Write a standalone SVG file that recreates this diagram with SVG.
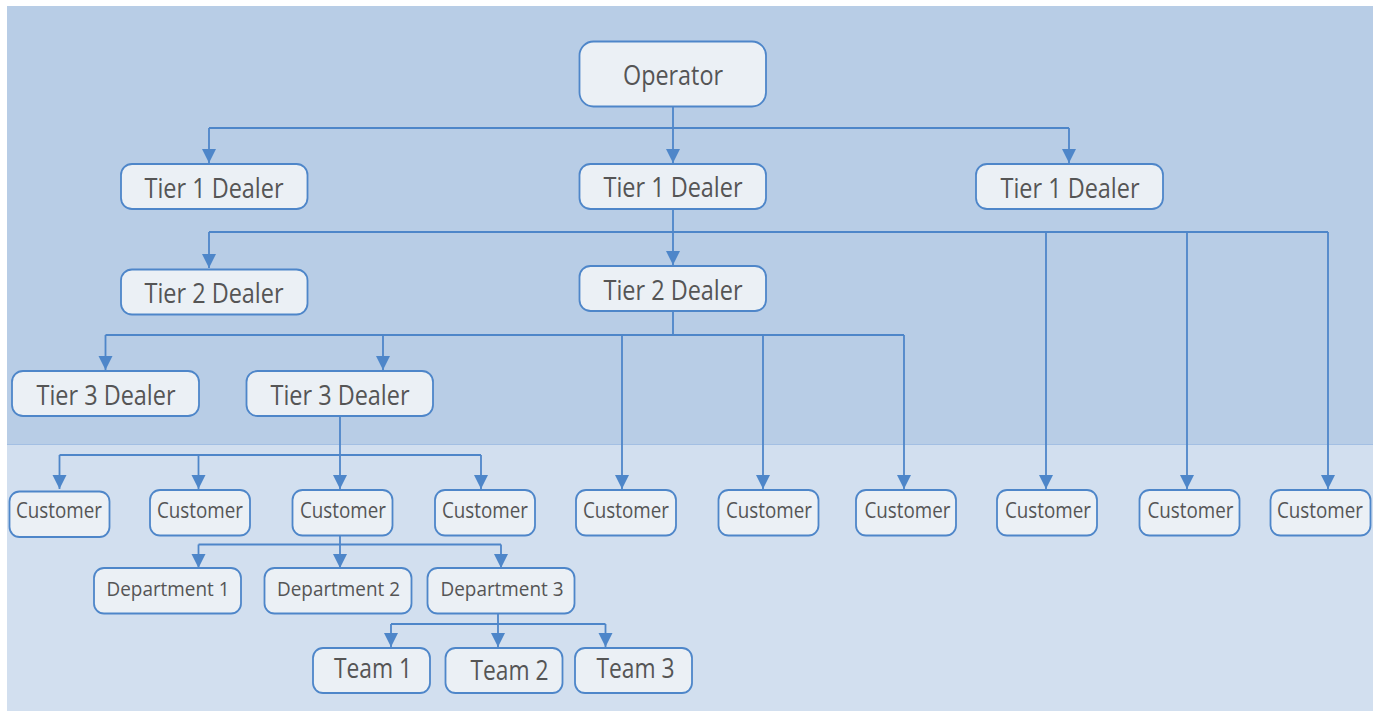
<svg xmlns="http://www.w3.org/2000/svg" width="1378" height="711" viewBox="0 0 1378 711">
<style>
.n{fill:#ebf0f5;stroke:#4e86c9;stroke-width:1.8}
.t{font-family:"Open Sans","Noto Sans",sans-serif;fill:#555555;text-anchor:middle}
.a{font-size:26.500px}.b{font-size:21px}.c{font-size:20.500px}
.l{fill:none;stroke:#4e86c9;stroke-width:1.8}
</style>
<defs><marker id="ah" markerUnits="userSpaceOnUse" markerWidth="15" markerHeight="16" refX="14" refY="7.500" orient="auto"><path d="M0 0.500L14 7.500L0 14.500Z" fill="#4e86c9"/></marker></defs>
<rect x="7" y="6" width="1366" height="438.500" fill="#b8cde6"/>
<rect x="7" y="444.500" width="1366" height="266.500" fill="#d2dfef"/>
<path d="M7 444.500H1373" stroke="#a3bfe3" stroke-width="1"/>
<g id="connectors" class="l">
<path d="M673 106.500V128M209 128H1069"/>
<path marker-end="url(#ah)" d="M209 128V163"/><path marker-end="url(#ah)" d="M673 128V163"/><path marker-end="url(#ah)" d="M1069 128V163"/>
<path d="M673 209V232M209 232H1328"/>
<path marker-end="url(#ah)" d="M209 232V268"/><path marker-end="url(#ah)" d="M673 232V265"/><path marker-end="url(#ah)" d="M1046 232V489"/><path marker-end="url(#ah)" d="M1187 232V489"/><path marker-end="url(#ah)" d="M1328 232V489"/>
<path d="M673 311V335M105.500 335H904"/>
<path marker-end="url(#ah)" d="M105.500 335V370"/><path marker-end="url(#ah)" d="M383 335V370"/><path marker-end="url(#ah)" d="M622 335V489"/><path marker-end="url(#ah)" d="M763 335V489"/><path marker-end="url(#ah)" d="M904 335V489"/>
<path d="M59.500 455H481"/>
<path marker-end="url(#ah)" d="M340 416V489"/><path marker-end="url(#ah)" d="M59.500 455V489"/><path marker-end="url(#ah)" d="M198.500 455V489"/><path marker-end="url(#ah)" d="M481 455V489"/>
<path d="M198.500 544.500H501"/>
<path d="M340 535.500V544.500"/>
<path marker-end="url(#ah)" d="M198.500 544.500V568"/><path marker-end="url(#ah)" d="M340 544.500V568"/><path marker-end="url(#ah)" d="M501 544.500V568"/>
<path d="M391 624H605.500"/><path d="M498 613.500V624"/>
<path marker-end="url(#ah)" d="M391 624V647"/><path marker-end="url(#ah)" d="M498 624V647"/><path marker-end="url(#ah)" d="M605.500 624V647"/>
</g>
<g id="operator"><rect class="n" x="579.500" y="41.500" width="186.500" height="65" rx="14"/><text class="t a" x="673" y="84.500" textLength="100" lengthAdjust="spacingAndGlyphs">Operator</text></g>
<g id="tier1-a"><rect class="n" x="121" y="164" width="186.500" height="45" rx="11"/><text class="t a" x="214" y="197.500" textLength="139" lengthAdjust="spacingAndGlyphs">Tier 1 Dealer</text></g>
<g id="tier1-b"><rect class="n" x="579.500" y="164" width="186.500" height="45" rx="11"/><text class="t a" x="673" y="196.500" textLength="139" lengthAdjust="spacingAndGlyphs">Tier 1 Dealer</text></g>
<g id="tier1-c"><rect class="n" x="976" y="164" width="187" height="45" rx="11"/><text class="t a" x="1070" y="197.500" textLength="139" lengthAdjust="spacingAndGlyphs">Tier 1 Dealer</text></g>
<g id="tier2-a"><rect class="n" x="121" y="269.500" width="186.500" height="45" rx="11"/><text class="t a" x="214" y="302.500" textLength="139" lengthAdjust="spacingAndGlyphs">Tier 2 Dealer</text></g>
<g id="tier2-b"><rect class="n" x="579.500" y="266" width="186.500" height="45" rx="11"/><text class="t a" x="673" y="299.500" textLength="139" lengthAdjust="spacingAndGlyphs">Tier 2 Dealer</text></g>
<g id="tier3-a"><rect class="n" x="12" y="371" width="187" height="45" rx="11"/><text class="t a" x="106" y="404.500" textLength="139" lengthAdjust="spacingAndGlyphs">Tier 3 Dealer</text></g>
<g id="tier3-b"><rect class="n" x="246.500" y="371" width="186.500" height="45" rx="11"/><text class="t a" x="340" y="404.500" textLength="139" lengthAdjust="spacingAndGlyphs">Tier 3 Dealer</text></g>
<g id="customer-1"><rect class="n" x="9.500" y="491.500" width="100" height="45.500" rx="10"/><text class="t b" x="59" y="517.500" textLength="86" lengthAdjust="spacingAndGlyphs">Customer</text></g>
<g id="customer-2"><rect class="n" x="150" y="490" width="100" height="45.500" rx="10"/><text class="t b" x="200" y="517.500" textLength="86" lengthAdjust="spacingAndGlyphs">Customer</text></g>
<g id="customer-3"><rect class="n" x="292.500" y="490" width="100" height="45.500" rx="10"/><text class="t b" x="343" y="517.500" textLength="86" lengthAdjust="spacingAndGlyphs">Customer</text></g>
<g id="customer-4"><rect class="n" x="435" y="490" width="100" height="45.500" rx="10"/><text class="t b" x="485" y="517.500" textLength="86" lengthAdjust="spacingAndGlyphs">Customer</text></g>
<g id="customer-5"><rect class="n" x="576" y="490" width="100" height="45.500" rx="10"/><text class="t b" x="626" y="517.500" textLength="86" lengthAdjust="spacingAndGlyphs">Customer</text></g>
<g id="customer-6"><rect class="n" x="718.500" y="490" width="100" height="45.500" rx="10"/><text class="t b" x="769" y="517.500" textLength="86" lengthAdjust="spacingAndGlyphs">Customer</text></g>
<g id="customer-7"><rect class="n" x="856" y="490" width="100" height="45.500" rx="10"/><text class="t b" x="907.500" y="517.500" textLength="86" lengthAdjust="spacingAndGlyphs">Customer</text></g>
<g id="customer-8"><rect class="n" x="997" y="490" width="100" height="45.500" rx="10"/><text class="t b" x="1048" y="517.500" textLength="86" lengthAdjust="spacingAndGlyphs">Customer</text></g>
<g id="customer-9"><rect class="n" x="1139.500" y="490" width="100" height="45.500" rx="10"/><text class="t b" x="1190.500" y="517.500" textLength="86" lengthAdjust="spacingAndGlyphs">Customer</text></g>
<g id="customer-10"><rect class="n" x="1270.500" y="490" width="100" height="45.500" rx="10"/><text class="t b" x="1320" y="517.500" textLength="86" lengthAdjust="spacingAndGlyphs">Customer</text></g>
<g id="department-1"><rect class="n" x="94" y="568" width="147" height="45.500" rx="10"/><text class="t c" x="168" y="596" textLength="123" lengthAdjust="spacingAndGlyphs">Department 1</text></g>
<g id="department-2"><rect class="n" x="264.500" y="568" width="147" height="45.500" rx="10"/><text class="t c" x="338.500" y="596" textLength="123" lengthAdjust="spacingAndGlyphs">Department 2</text></g>
<g id="department-3"><rect class="n" x="427.500" y="568" width="147" height="45.500" rx="10"/><text class="t c" x="502" y="596" textLength="123" lengthAdjust="spacingAndGlyphs">Department 3</text></g>
<g id="team-1"><rect class="n" x="313" y="648" width="117" height="45" rx="10"/><text class="t a" x="373" y="677.500" textLength="78" lengthAdjust="spacingAndGlyphs">Team 1</text></g>
<g id="team-2"><rect class="n" x="445.500" y="648" width="117" height="45" rx="10"/><text class="t a" x="509.500" y="680" textLength="78" lengthAdjust="spacingAndGlyphs">Team 2</text></g>
<g id="team-3"><rect class="n" x="575" y="648" width="117" height="45" rx="10"/><text class="t a" x="635.500" y="677.500" textLength="78" lengthAdjust="spacingAndGlyphs">Team 3</text></g>
</svg>
